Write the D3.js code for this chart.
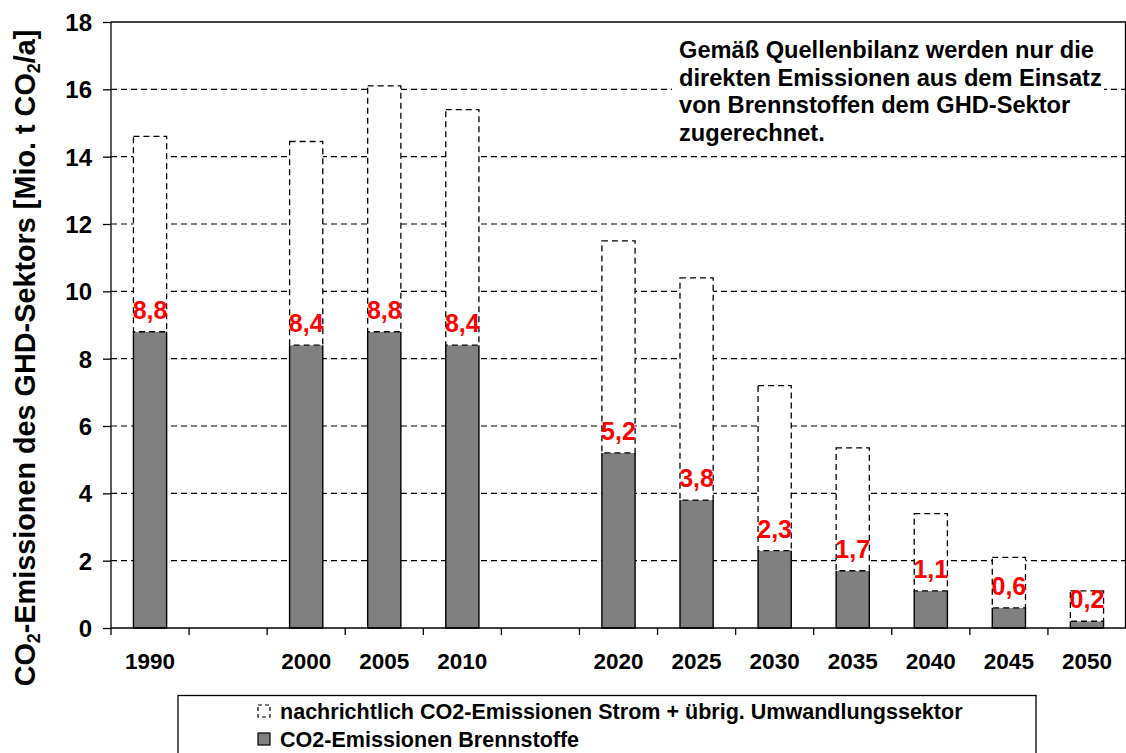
<!DOCTYPE html>
<html><head><meta charset="utf-8">
<script src="https://cdn.jsdelivr.net/npm/d3@7"></script>
<style>body{margin:0;background:#fff}svg{display:block}text{font-family:"Liberation Sans",Arial,sans-serif;font-weight:bold}</style>
</head><body><svg id="c" width="1126" height="753"></svg>
<script>
const slots = ["1990","_a","2000","2005","2010","_b","2020","2025","2030","2035","2040","2045","2050"];
const years = ["1990","2000","2005","2010","2020","2025","2030","2035","2040","2045","2050"];
const fuel = [8.8,8.4,8.8,8.4,5.2,3.8,2.3,1.7,1.1,0.6,0.2];
const total = [14.6,14.45,16.1,15.4,11.5,10.4,7.2,5.35,3.4,2.1,1.1];
const fuelLabels = ["8,8","8,4","8,8","8,4","5,2","3,8","2,3","1,7","1,1","0,6","0,2"];
const yTicks = [0,2,4,6,8,10,12,14,16,18];
const legendLabels = ["nachrichtlich CO2-Emissionen Strom + übrig. Umwandlungssektor","CO2-Emissionen Brennstoffe"];
const noteLines = ["Gemäß Quellenbilanz werden nur die","direkten Emissionen aus dem Einsatz","von Brennstoffen dem GHD-Sektor","zugerechnet."];

const svg = d3.select("#c");
const L = 111, R = 1126, T = 22, B = 628;
const x = d3.scaleBand().domain(slots).range([L, R]).paddingInner(0.575).paddingOuter(0.2875);
const y = d3.scaleLinear().domain([0, 18]).range([B, T]);

// gridlines
svg.append("g").selectAll("line").data(yTicks.filter(d => d > 0 && d < 18)).join("line")
  .attr("x1", L).attr("x2", R).attr("y1", d => y(d)).attr("y2", d => y(d))
  .attr("stroke", "#000").attr("stroke-width", 1.1).attr("stroke-dasharray", "6,4");

// annotation background + text
svg.append("rect").attr("x", 672).attr("y", 36).attr("width", 432).attr("height", 112).attr("fill", "#fff");
const nt = svg.append("g").selectAll("text").data(noteLines).join("text")
  .attr("x", 679).attr("y", (d, i) => 58 + i * 27.5)
  .attr("font-size", 20).attr("fill", "#000").text(d => d);
const n0 = nt.nodes()[0].getComputedTextLength();
nt.attr("font-size", 20 * 415 / n0);

// bars
const bw = x.bandwidth();
const g = svg.append("g");
years.forEach((yr, i) => {
  const x0 = x(yr);
  g.append("rect").attr("x", x0).attr("y", y(fuel[i])).attr("width", bw).attr("height", y(0) - y(fuel[i]))
    .attr("fill", "#808080");
  g.append("path").attr("d", `M${x0},${y(fuel[i])}V${y(0)}H${x0 + bw}V${y(fuel[i])}`)
    .attr("fill", "none").attr("stroke", "#000").attr("stroke-width", 1.4);
  g.append("rect").attr("x", x0).attr("y", y(total[i])).attr("width", bw).attr("height", y(fuel[i]) - y(total[i]))
    .attr("fill", "#fff").attr("stroke", "#000").attr("stroke-width", 1.3).attr("stroke-dasharray", "6,4");
  g.append("text").attr("x", x0 + bw / 2).attr("y", y(fuel[i]) - 13).attr("text-anchor", "middle")
    .attr("font-size", 25).attr("fill", "#ff0000").text(fuelLabels[i]);
});

// frame / axes
svg.append("line").attr("x1", L).attr("x2", L).attr("y1", T).attr("y2", B).attr("stroke", "#000").attr("stroke-width", 1.3);
svg.append("line").attr("x1", L).attr("x2", R).attr("y1", T).attr("y2", T).attr("stroke", "#000").attr("stroke-width", 1.3);
svg.append("line").attr("x1", R - 0.5).attr("x2", R - 0.5).attr("y1", T).attr("y2", B).attr("stroke", "#000").attr("stroke-width", 1.3);
svg.append("line").attr("x1", L).attr("x2", R).attr("y1", B).attr("y2", B).attr("stroke", "#000").attr("stroke-width", 1.3);

const yAxis = svg.append("g").attr("transform", `translate(${L},0)`)
  .call(d3.axisLeft(y).tickValues(yTicks).tickSize(8).tickPadding(11).tickFormat(d3.format("d")));
yAxis.attr("font-family", null);
yAxis.select(".domain").remove();
yAxis.selectAll("line").attr("stroke", "#000").attr("stroke-width", 1.3);
yAxis.selectAll("text").attr("font-size", 24).attr("fill", "#000").attr("dy", "0.36em");

// x ticks at band boundaries
const step = x.step();
const bounds = slots.map(s => x(s) - step * x.paddingInner() / 2);
svg.append("g").selectAll("line").data(bounds).join("line")
  .attr("x1", d => d).attr("x2", d => d).attr("y1", B).attr("y2", B + 7)
  .attr("stroke", "#000").attr("stroke-width", 1.3);
svg.append("g").selectAll("text").data(years).join("text")
  .attr("x", d => x(d) + bw / 2).attr("y", 669).attr("text-anchor", "middle")
  .attr("font-size", 22.5).attr("fill", "#000").text(d => d);

// y title
const yt = svg.append("text").attr("transform", "translate(35,358) rotate(-90)").attr("text-anchor", "middle")
  .attr("font-size", 24).attr("fill", "#000");
yt.append("tspan").text("CO");
yt.append("tspan").attr("font-size", 15).attr("dy", 5).text("2");
yt.append("tspan").attr("dy", -5).text("-Emissionen des GHD-Sektors [Mio. t CO");
yt.append("tspan").attr("font-size", 15).attr("dy", 5).text("2");
yt.append("tspan").attr("dy", -5).text("/a]");
const len = yt.node().getComputedTextLength();
const fs = 24 * 657 / len;
yt.attr("font-size", fs);
yt.selectAll("tspan").filter((d, i) => i === 1 || i === 3).attr("font-size", fs * 0.62);

// legend
svg.append("rect").attr("x", 178).attr("y", 695.5).attr("width", 858).attr("height", 80)
  .attr("fill", "#fff").attr("stroke", "#000").attr("stroke-width", 1.3);
svg.append("rect").attr("x", 258).attr("y", 705).attr("width", 12).attr("height", 12)
  .attr("fill", "#fff").attr("stroke", "#000").attr("stroke-width", 1.2).attr("stroke-dasharray", "4,3");
svg.append("rect").attr("x", 258).attr("y", 733).attr("width", 12).attr("height", 12)
  .attr("fill", "#808080").attr("stroke", "#000").attr("stroke-width", 1.2);
const lt = svg.append("g").selectAll("text").data(legendLabels).join("text")
  .attr("x", 280).attr("y", (d, i) => 719 + i * 27.5).attr("font-size", 19).attr("fill", "#000").text(d => d);
const l0 = lt.nodes()[0].getComputedTextLength();
lt.attr("font-size", 19 * 683 / l0);
</script></body></html>
